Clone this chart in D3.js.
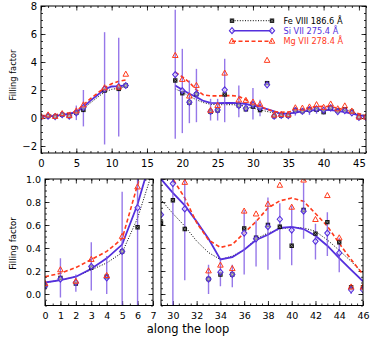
<!DOCTYPE html>
<html>
<head>
<meta charset="utf-8">
<script src="https://cdn.jsdelivr.net/npm/d3@7"></script>
<style>
  body { margin: 0; background: #fff; }
  svg { display: block; font-family: "DejaVu Sans", sans-serif; }
</style>
</head>
<body>
<div id="chart"></div>
<script>
// measured points (same data in all three panels)
var ptX = [0, 1, 2, 3, 4, 5, 6, 9, 11, 12, 19, 20, 21, 22, 24, 25, 26, 28, 29, 30, 31, 32,
  33, 34, 35, 36, 37, 38, 39, 40, 41, 42, 43, 44, 45, 46];
var feVals = [0.07, 0.14, 0.09, 0.23, 0.15, 0.37, 0.58, 1.96, 2.08, 2.32, 2.68, 1.77, 1.1, 1.7,
  0.44, 0.54, 1.68, 0.89, 0.62, 0.815, 0.565, 2.49, 0.13, 0.17, 0.17, 0.57, 0.49, 0.6, 0.585,
  0.42, 0.73, 0.525, 0.625, 0.45, 0.06, 0.06];
var siVals = [0.07, 0.13, 0.1, 0.24, 0.14, 0.37, 0.75, 2.08, 2.25, 2.32, 3.1, 1.96, 1.13, 1.73,
  0.47, 0.58, 2.01, 0.89, 0.69, 0.96, 0.74, 2.37, 0.13, 0.19, 0.17, 0.53, 0.48, 0.585, 0.65,
  0.556, 0.72, 0.458, 0.53, 0.357, 0.037, 0.037];
var mgVals = [0.09, 0.21, 0.11, 0.3, 0.16, 0.5, 0.93, 2.15, 2.2, 3.12, 4.46, 2.75, 1.56, 2.32,
  0.54, 0.89, 3.2, 1.28, 1.25, 1.13, 0.97, 4.11, 0.2, 0.25, 0.22, 0.72, 0.695, 0.78, 0.945,
  0.754, 0.99, 0.647, 0.855, 0.487, 0.06, 0.06];

// error bars of Si VII
var errX = [1, 2, 3, 4, 5, 6, 9, 11, 19, 20, 21, 22, 24, 25, 26, 28, 30, 31, 33, 34, 35, 36,
  37, 38, 39, 40, 41, 42, 43, 44, 45];
var errLo = [-0.03, 0.02, 0.03, 0.0, -0.15, -0.6, -1.89, -1.32, -1.49, -1.08, -0.37, -0.3, -0.18,
  -0.18, -0.3, 0.06, -0.1, 0.12, 0.0, 0.067, 0.058, 0.17, 0.24, 0.21, 0.3, 0.25, 0.48, 0.3, 0.33,
  0.19, 0.0];
var errHi = [0.31, 0.17, 0.45, 0.33, 0.89, 2.0, 6.13, 5.73, 7.73, 4.94, 2.68, 3.51, 1.37, 1.37,
  4.23, 2.32, 2.15, 1.3, 0.255, 0.3, 0.255, 0.73, 0.64, 0.84, 0.79, 0.77, 0.97, 0.61, 0.71, 0.49,
  0.07];

// fitted curves, two pieces
var fitXa = [0, 1, 2, 3, 4, 5, 6, 7, 8, 9, 10, 11, 12];
var feFitA = [0.1, 0.12, 0.15, 0.21, 0.27, 0.36, 0.66, 1.08, 1.48, 1.85, 2.05, 2.12, 2.25];
var siFitA = [0.1, 0.12, 0.15, 0.22, 0.31, 0.43, 0.78, 1.24, 1.64, 2.05, 2.25, 2.28, 2.33];
var mgFitA = [0.15, 0.18, 0.23, 0.3, 0.37, 0.48, 0.95, 1.38, 1.78, 2.15, 2.45, 2.62, 2.72];
var fitXb = [19, 20, 21, 22, 23, 24, 25, 26, 27, 28, 29, 30, 31, 32, 33, 34, 35, 36, 37, 38, 39,
  40, 41, 42, 43, 44, 45, 46];
var feFitB = [2.08, 1.85, 1.55, 1.3, 1.1, 0.98, 0.95, 0.95, 0.95, 0.93, 0.82, 0.7, 0.59, 0.46,
  0.36, 0.3, 0.33, 0.385, 0.48, 0.53, 0.565, 0.58, 0.575, 0.545, 0.47, 0.38, 0.284, 0.18];
var siFitB = [2.32, 2.02, 1.73, 1.49, 1.22, 1.08, 1.06, 1.07, 1.07, 1.06, 1.0, 0.88, 0.77, 0.63,
  0.48, 0.3, 0.32, 0.385, 0.47, 0.515, 0.574, 0.583, 0.565, 0.507, 0.42, 0.313, 0.21, 0.11];
var mgFitB = [3.27, 2.95, 2.55, 2.0, 1.65, 1.58, 1.58, 1.6, 1.6, 1.55, 1.3, 1.0, 0.835, 0.62,
  0.47, 0.405, 0.43, 0.53, 0.63, 0.748, 0.81, 0.835, 0.806, 0.7, 0.59, 0.44, 0.3, 0.17];

var legendNames = ["Fe VIII  186.6 Å", "Si VII  275.4 Å", "Mg VII  278.4 Å"];
var topXTicks = [0, 5, 10, 15, 20, 25, 30, 35, 40, 45];
var topYTicks = [-2, 0, 2, 4, 6, 8];
var lowYTicks = [0, 0.2, 0.4, 0.6, 0.8, 1.0];
var leftXTicks = [0, 1, 2, 3, 4, 5, 6, 7];
var rightXTicks = [30, 32, 34, 36, 38, 40, 42, 44, 46];

var w = 374, h = 340;
var purple = "#5530dd", red = "#ff3a1c", barColor = "#7c56e4";

var svg = d3.select("#chart").append("svg").attr("width", w).attr("height", h);

var panels = [
  { id: "top", left: 41, right: 366, top: 6, bottom: 153, xd: [0, 46], yd: [-2.5, 8],
    xt: topXTicks, xm: 1, yt: topYTicks, ym: 0.5, yLabels: true, yfmt: d3.format("d"), fs: 10, legend: true },
  { id: "bl", left: 45, right: 153, top: 179, bottom: 305.5, xd: [0, 7], yd: [-0.1, 1.0],
    xt: leftXTicks, xm: 0.5, yt: lowYTicks, ym: 0.05, yLabels: true, yfmt: d3.format(".1f"), fs: 9.5 },
  { id: "br", left: 161, right: 363, top: 179, bottom: 305.5, xd: [29, 46], yd: [-0.1, 1.0],
    xt: rightXTicks, xm: 0.5, yt: lowYTicks, ym: 0.05, yLabels: false, yfmt: d3.format(".1f"), fs: 9.5 }
];

panels.forEach(drawPanel);

function minorTicks(dom, step) {
  var out = [];
  var start = Math.ceil(dom[0] / step - 1e-9);
  for (var k = start; k * step <= dom[1] + 1e-9; k++) out.push(+(k * step).toFixed(4));
  return out;
}

function drawPanel(p) {
  var x = d3.scaleLinear().domain(p.xd).range([p.left, p.right]);
  var y = d3.scaleLinear().domain(p.yd).range([p.bottom, p.top]);
  var g = svg.append("g");

  g.append("clipPath").attr("id", "clip-" + p.id)
    .append("rect")
    .attr("x", p.left).attr("y", p.top)
    .attr("width", p.right - p.left).attr("height", p.bottom - p.top);

  // ticks on all four sides, pointing inwards
  var xMin = minorTicks(p.xd, p.xm), yMin = minorTicks(p.yd, p.ym);
  var sides = [
    { ax: d3.axisBottom(x), pos: "translate(0," + p.bottom + ")", major: p.xt, minor: xMin, lab: true, fmt: d3.format("d") },
    { ax: d3.axisTop(x), pos: "translate(0," + p.top + ")", major: p.xt, minor: xMin, lab: false },
    { ax: d3.axisLeft(y), pos: "translate(" + p.left + ",0)", major: p.yt, minor: yMin, lab: p.yLabels, fmt: p.yfmt },
    { ax: d3.axisRight(y), pos: "translate(" + p.right + ",0)", major: p.yt, minor: yMin, lab: false }
  ];
  sides.forEach(function (s, i) {
    var isX = i < 2;
    g.append("g").attr("transform", s.pos)
      .call(s.ax.tickValues(s.minor).tickSize(-2).tickFormat(""))
      .call(function (a) { a.select(".domain").remove(); });
    var maj = g.append("g").attr("transform", s.pos)
      .call(s.ax.tickValues(s.major).tickSize(-4.5).tickPadding(isX ? 7 : 4)
        .tickFormat(s.lab ? s.fmt : ""))
      .call(function (a) { a.select(".domain").remove(); });
    maj.selectAll("text").style("font-size", p.fs + "px").attr("fill", "#000")
      .style("font-family", "DejaVu Sans, sans-serif");
  });
  g.selectAll(".tick line").attr("stroke", "#000").attr("stroke-width", 0.8);

  var data = g.append("g").attr("clip-path", "url(#clip-" + p.id + ")");

  // fitted curves
  var curves = [
    { xs: fitXa, ys: feFitA, c: "#000", wdt: 1, dash: "1,1.6" },
    { xs: fitXb, ys: feFitB, c: "#000", wdt: 1, dash: "1,1.6" },
    { xs: fitXa, ys: siFitA, c: purple, wdt: 1.8, dash: null },
    { xs: fitXb, ys: siFitB, c: purple, wdt: 1.8, dash: null },
    { xs: fitXa, ys: mgFitA, c: red, wdt: 1.6, dash: "4,2.5" },
    { xs: fitXb, ys: mgFitB, c: red, wdt: 1.6, dash: "4,2.5" }
  ];
  var line = d3.line().x(function (d) { return x(d[0]); }).y(function (d) { return y(d[1]); });
  curves.forEach(function (cv) {
    data.append("path")
      .datum(d3.zip(cv.xs, cv.ys))
      .attr("d", line)
      .attr("fill", "none")
      .attr("stroke", cv.c)
      .attr("stroke-width", cv.wdt)
      .attr("stroke-dasharray", cv.dash);
  });

  // error bars
  data.selectAll("line.err")
    .data(errX)
    .enter()
    .append("line")
    .attr("class", "err")
    .attr("x1", function (d) { return x(d); })
    .attr("x2", function (d) { return x(d); })
    .attr("y1", function (d, i) { return y(errLo[i]); })
    .attr("y2", function (d, i) { return y(errHi[i]); })
    .attr("stroke", barColor)
    .attr("stroke-opacity", 0.8)
    .attr("stroke-width", 1.4);

  drawMarkers(data, ptX, feVals, "fe", x, y);
  drawMarkers(data, ptX, siVals, "si", x, y);
  drawMarkers(data, ptX, mgVals, "mg", x, y);

  g.append("rect")
    .attr("x", p.left).attr("y", p.top)
    .attr("width", p.right - p.left).attr("height", p.bottom - p.top)
    .attr("fill", "none").attr("stroke", "#000").attr("stroke-width", 1);

  if (p.legend) drawLegend(g);
}

function markerPath(kind) {
  if (kind === "si") return "M0,-3L2.6,0L0,3L-2.6,0Z";
  if (kind === "mg") return "M0,-3.2L2.8,1.9L-2.8,1.9Z";
  return "M-2.2,-2.2H2.2V2.2H-2.2Z";
}

function drawMarkers(sel, xs, ys, kind, x, y) {
  var m = sel.selectAll("g.m-" + kind)
    .data(d3.zip(xs, ys))
    .enter()
    .append("g")
    .attr("class", "m-" + kind)
    .attr("transform", function (d) { return "translate(" + x(d[0]) + "," + y(d[1]) + ")"; });
  addMarker(m, kind);
}

function addMarker(m, kind) {
  if (kind === "fe") {
    m.append("path").attr("d", markerPath("fe")).attr("fill", "#111");
    m.append("path").attr("d", "M-1.3,-1.3L1.3,1.3M-1.3,1.3L1.3,-1.3")
      .attr("stroke", "#aaa").attr("stroke-width", 0.6);
  } else if (kind === "si") {
    m.append("path").attr("d", markerPath("si"))
      .attr("fill", "rgba(255,255,255,0.5)").attr("stroke", purple).attr("stroke-width", 1.1);
  } else {
    m.append("path").attr("d", markerPath("mg"))
      .attr("fill", "none").attr("stroke", red).attr("stroke-width", 1);
  }
}

function drawLegend(g) {
  var rows = [
    { kind: "fe", c: "#000", wdt: 1, dash: "1,1.6", y: 20.7 },
    { kind: "si", c: purple, wdt: 1.6, dash: null, y: 30.7 },
    { kind: "mg", c: red, wdt: 1.5, dash: "4,2.5", y: 41.3 }
  ];
  rows.forEach(function (r, i) {
    g.append("line")
      .attr("x1", 232).attr("x2", 272).attr("y1", r.y).attr("y2", r.y)
      .attr("stroke", r.c).attr("stroke-width", r.wdt).attr("stroke-dasharray", r.dash);
    [232, 272].forEach(function (mx) {
      var m = g.append("g").attr("transform", "translate(" + mx + "," + r.y + ")");
      addMarker(m, r.kind);
    });
    g.append("text")
      .attr("x", 283.5).attr("y", r.y).attr("dy", "0.36em")
      .attr("fill", r.c)
      .style("font-size", "8.2px")
      .text(legendNames[i]);
  });
}

// axis titles
svg.append("text")
  .attr("transform", "translate(13,75) rotate(-90)")
  .attr("text-anchor", "middle").attr("dy", "0.35em")
  .style("font-size", "8.3px")
  .text("Filling factor");
svg.append("text")
  .attr("transform", "translate(13,243.5) rotate(-90)")
  .attr("text-anchor", "middle").attr("dy", "0.35em")
  .style("font-size", "8.6px")
  .text("Filling factor");
svg.append("text")
  .attr("x", 188).attr("y", 333)
  .attr("text-anchor", "middle")
  .style("font-size", "11.5px")
  .text("along the loop");
</script>
</body>
</html>
